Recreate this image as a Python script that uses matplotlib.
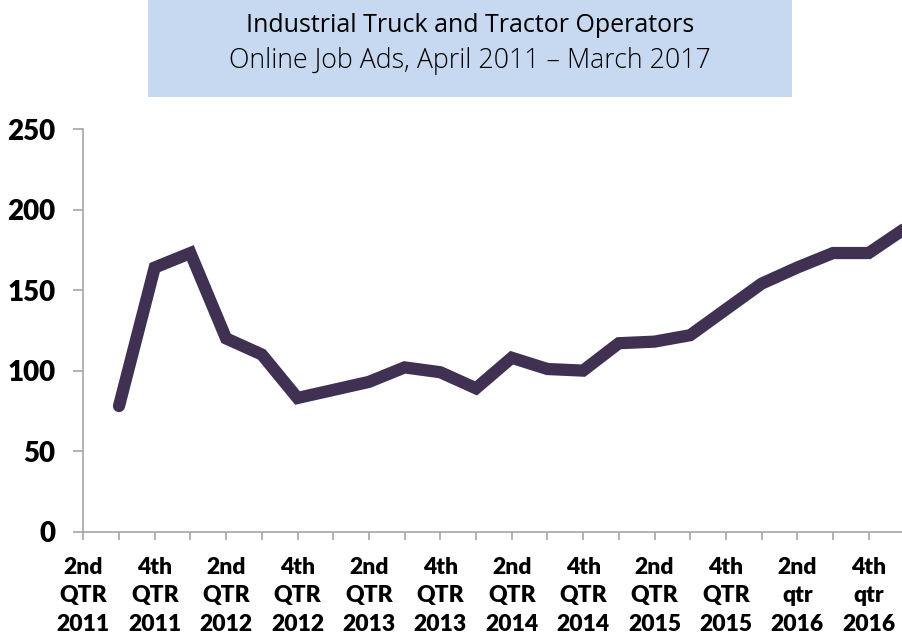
import matplotlib
matplotlib.use("Agg")
import matplotlib.pyplot as plt
from matplotlib.patches import Rectangle

# quarterly online job ads (first slot on the axis is the label-only position)
positions = list(range(1, 24))
ads = [78, 164, 173, 120, 110, 83, 88, 93, 102, 99, 89, 108, 101, 100,
       117, 118, 122, 138, 154, 164, 173, 173, 188]

tick_labels = ["2nd\nQTR\n2011", "4th\nQTR\n2011", "2nd\nQTR\n2012", "4th\nQTR\n2012",
               "2nd\nQTR\n2013", "4th\nQTR\n2013", "2nd\nQTR\n2014", "4th\nQTR\n2014",
               "2nd\nQTR\n2015", "4th\nQTR\n2015", "2nd\nqtr\n2016", "4th\nqtr\n2016"]

title1 = "Industrial Truck and Tractor Operators"
title2 = "Online Job Ads, April 2011 \u2013 March 2017"

W, H = 903, 639
fig = plt.figure(figsize=(W / 100, H / 100), dpi=100)

px = 35.7
x0, y0, ytop = 83.3, 531.7, 129.0
ax = fig.add_axes([x0 / W, (H - y0) / H, 24 * px / W, (y0 - ytop) / H])

ax.plot(positions, ads, color="#403152", lw=8.8, solid_capstyle="round",
        solid_joinstyle="miter", clip_on=False)

ax.set_xlim(0, 24)
ax.set_ylim(0, 250)
ax.set_yticks(range(0, 251, 50))
ax.set_xticks(range(0, 25))
ax.set_xticklabels([tick_labels[i // 2] if i % 2 == 0 and i // 2 < len(tick_labels) else ""
                    for i in range(25)])

for s in ["top", "right"]:
    ax.spines[s].set_visible(False)
for s in ["left", "bottom"]:
    ax.spines[s].set_color("#a6a6a6")
    ax.spines[s].set_linewidth(1.2)

ax.tick_params(axis="y", length=7, width=1.2, color="#a6a6a6", pad=13,
               labelsize=20)
ax.tick_params(axis="x", length=6, width=1.2, color="#a6a6a6", pad=12,
               labelsize=16.5)
for lab in ax.get_yticklabels():
    lab.set_fontfamily("Lato")
    lab.set_fontweight("heavy")
for lab in ax.get_xticklabels():
    lab.set_fontfamily("Lato")
    lab.set_fontweight("heavy")
    lab.set_linespacing(1.45)

# title box
fig.patches.append(Rectangle((148 / W, (H - 97) / H), 644 / W, 97 / H,
                             transform=fig.transFigure, facecolor="#c6d9f1",
                             edgecolor="none", zorder=0))
fig.text(470 / W, 1 - 25 / H, title1, ha="center", va="center",
         fontsize=18, family="Open Sans", color="black")
fig.text(470 / W, 1 - 61 / H, title2, ha="center", va="center",
         fontsize=19.3, family="Open Sans", fontweight="light", color="black")

fig.savefig("out.png", dpi=100)
